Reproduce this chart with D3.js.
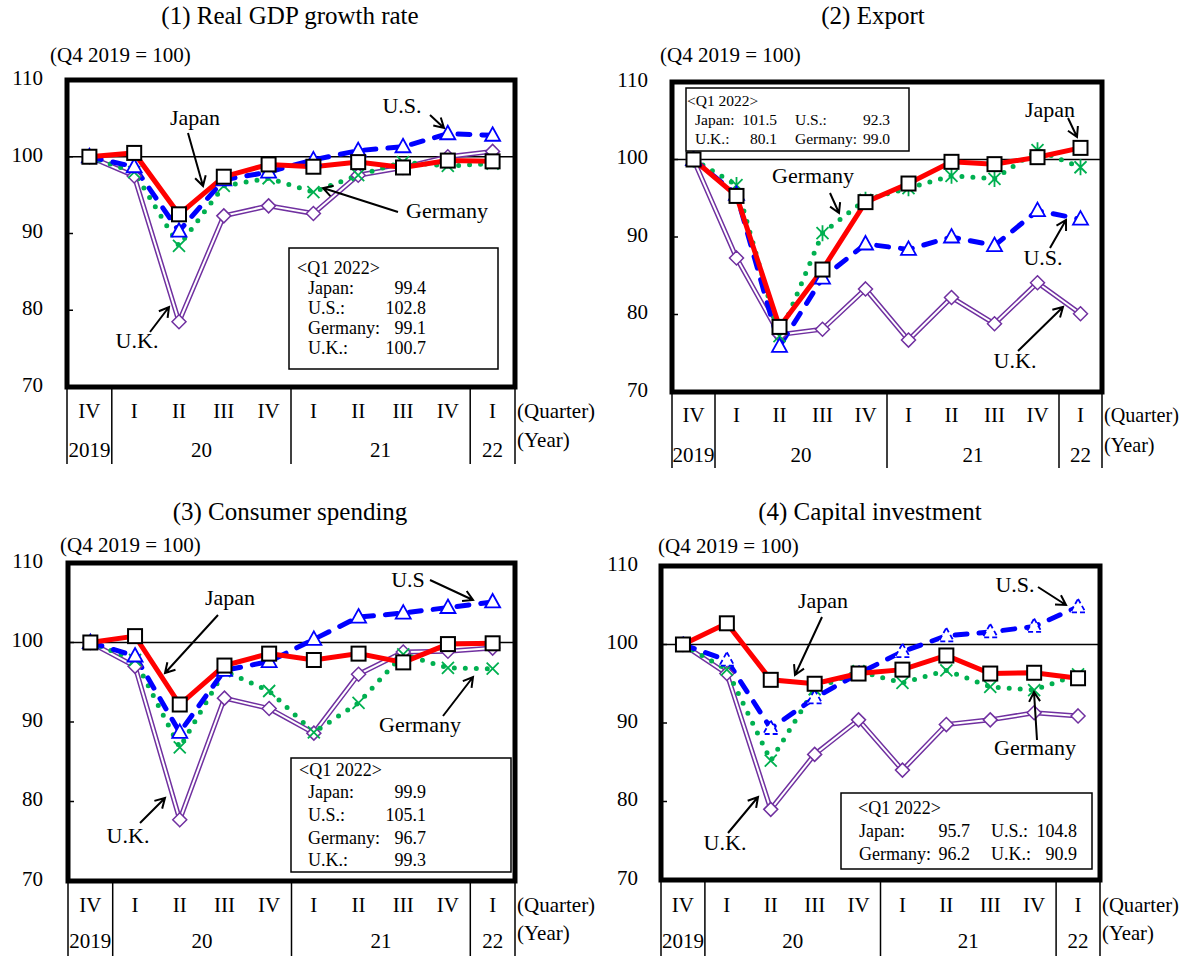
<!DOCTYPE html>
<html>
<head>
<meta charset="utf-8">
<script src="https://cdn.jsdelivr.net/npm/d3@7"></script>
<style>
  body { margin: 0; background: #fff; }
  svg text { font-family: "Liberation Serif", "Times New Roman", serif; fill: #000; }
</style>
</head>
<body>
<svg id="chart" width="1180" height="956"></svg>
<script>
(function() {
  'use strict';

  // Axis labels
  const quarters = ['IV', 'I', 'II', 'III', 'IV', 'I', 'II', 'III', 'IV', 'I'];
  const yearLabels = ['2019', '20', '21', '22'];
  const yearFirst = [0, 1, 5, 9];
  const yearLast = [0, 4, 8, 9];
  const yTicks = [70, 80, 90, 100, 110];
  const countryNames = ['Japan:', 'U.S.:', 'Germany:', 'U.K.:'];

  // (1) Real GDP
  const gdpJapan = [100, 100.5, 92.5, 97.4, 99.0, 98.7, 99.3, 98.6, 99.5, 99.4];
  const gdpUS = [100, 98.7, 90.3, 97.0, 98.0, 99.6, 100.8, 101.3, 103.0, 102.8];
  const gdpGermany = [100, 98.0, 88.4, 96.2, 97.2, 95.4, 97.6, 99.3, 98.8, 99.1];
  const gdpUK = [100, 97.5, 78.5, 92.3, 93.6, 92.6, 97.6, 98.6, 100.0, 100.7];

  // (2) Export
  const expJapan = [100, 95.3, 78.4, 85.8, 94.5, 96.9, 99.7, 99.4, 100.3, 101.5];
  const expUS = [100, 95.5, 75.9, 84.7, 89.1, 88.4, 90.0, 88.9, 93.4, 92.3];
  const expGermany = [100, 96.7, 77.2, 90.5, 94.8, 96.3, 97.9, 97.5, 101.2, 99.0];
  const expUK = [100, 87.3, 77.4, 78.1, 83.3, 76.7, 82.2, 78.8, 84.1, 80.1];

  // (3) Consumer spending
  const conJapan = [100, 100.8, 92.2, 97.1, 98.6, 97.8, 98.6, 97.5, 99.8, 99.9];
  const conUS = [100, 98.3, 88.7, 96.5, 97.6, 100.4, 103.2, 103.7, 104.4, 105.1];
  const conGermany = [100, 97.8, 86.8, 96.4, 93.9, 88.7, 92.4, 98.5, 96.8, 96.7];
  const conUK = [100, 97.0, 77.7, 93.0, 91.7, 88.6, 96.0, 98.8, 98.9, 99.3];

  // (4) Capital investment
  const capJapan = [100, 102.7, 95.5, 95.0, 96.3, 96.8, 98.6, 96.3, 96.4, 95.7];
  const capUS = [100, 98.0, 89.3, 93.2, 96.3, 99.1, 101.1, 101.6, 102.3, 104.8];
  const capGermany = [100, 96.8, 85.2, 94.3, 96.6, 95.1, 96.7, 94.6, 94.2, 96.2];
  const capUK = [100, 96.3, 79.0, 86.0, 90.4, 84.0, 89.8, 90.4, 91.3, 90.9];

  const panels = [
    {
      title: '(1) Real GDP growth rate', titleX: 290, titleY: 18,
      left: 67, right: 515, top: 80, bottom: 387,
      unitX: 50, unitY: 57, tickRight: 43,
      qY: 413, yrY: 452, yrNoteY: 442, divBottom: 464,
      series: [gdpJapan, gdpUS, gdpGermany, gdpUK],
      germanyMark: 'x', usDashedMark: false,
      legend: {
        box: [289, 248, 209, 121], font: 18, head: [297, 270],
        nameX: [308], valueX: [426], rows: [[0], [1], [2], [3]], rowY: [290, 310, 330, 350]
      },
      notes: [
        { text: 'Japan', x: 195, y: 120, a: [188, 133, 203, 186] },
        { text: 'U.S.', x: 402, y: 108, a: [430, 115, 444, 128] },
        { text: 'Germany', x: 447, y: 213, a: [398, 212, 323, 188] },
        { text: 'U.K.', x: 137, y: 343, a: [150, 332, 169, 307] }
      ]
    },
    {
      title: '(2) Export', titleX: 873, titleY: 18,
      left: 672, right: 1102, top: 82, bottom: 392,
      unitX: 660, unitY: 57, tickRight: 648,
      qY: 417, yrY: 457, yrNoteY: 447, divBottom: 468,
      series: [expJapan, expUS, expGermany, expUK],
      germanyMark: 'asterisk', usDashedMark: false,
      legend: {
        box: [686, 88, 223, 63], font: 15.5, head: [687, 102],
        nameX: [695, 795], valueX: [777, 890], rows: [[0, 1], [3, 2]], rowY: [121, 140]
      },
      notes: [
        { text: 'Germany', x: 813, y: 178, a: [830, 193, 839, 213] },
        { text: 'Japan', x: 1050, y: 112, a: [1068, 118, 1077, 137] },
        { text: 'U.S.', x: 1043, y: 260, a: [1050, 248, 1066, 220] },
        { text: 'U.K.', x: 1015, y: 363, a: [1018, 351, 1063, 307] }
      ]
    },
    {
      title: '(3) Consumer spending', titleX: 290, titleY: 514,
      left: 68, right: 515, top: 563, bottom: 881,
      unitX: 60, unitY: 547, tickRight: 43,
      qY: 907, yrY: 943, yrNoteY: 935, divBottom: 956,
      series: [conJapan, conUS, conGermany, conUK],
      germanyMark: 'x', usDashedMark: false,
      legend: {
        box: [291, 758, 220, 114], font: 18, head: [299, 772],
        nameX: [308], valueX: [426], rows: [[0], [1], [2], [3]], rowY: [794, 817, 840, 862]
      },
      notes: [
        { text: 'Japan', x: 230, y: 600, a: [218, 615, 165, 673] },
        { text: 'U.S', x: 408, y: 582, a: [430, 580, 473, 600] },
        { text: 'Germany', x: 420, y: 727, a: [443, 716, 473, 677] },
        { text: 'U.K.', x: 128, y: 838, a: [140, 823, 165, 798] }
      ]
    },
    {
      title: '(4) Capital investment', titleX: 870, titleY: 514,
      left: 661, right: 1100, top: 566, bottom: 880,
      unitX: 658, unitY: 548, tickRight: 638,
      qY: 907, yrY: 943, yrNoteY: 935, divBottom: 956,
      series: [capJapan, capUS, capGermany, capUK],
      germanyMark: 'x', usDashedMark: true,
      legend: {
        box: [841, 793, 251, 76], font: 18, head: [858, 810],
        nameX: [859, 991], valueX: [970, 1077], rows: [[0, 1], [2, 3]], rowY: [833, 856]
      },
      notes: [
        { text: 'Japan', x: 823, y: 603, a: [822, 617, 795, 675] },
        { text: 'U.S.', x: 1015, y: 587, a: [1038, 587, 1066, 605] },
        { text: 'Germany', x: 1035, y: 750, a: [1037, 740, 1034, 692] },
        { text: 'U.K.', x: 725, y: 845, a: [728, 833, 758, 797] }
      ]
    }
  ];

  const fmt = d3.format('.1f');
  const svg = d3.select('#chart');

  panels.forEach(drawPanel);

  function drawPanel(p) {
    let g = svg.append('g');

    let x = d3.scalePoint()
      .domain(d3.range(quarters.length))
      .range([p.left, p.right])
      .padding(0.5);
    let step = x.step();

    let y = d3.scaleLinear()
      .domain([70, 110])
      .range([p.bottom, p.top]);

    // Title and unit
    g.append('text')
      .attr('x', p.titleX).attr('y', p.titleY)
      .attr('text-anchor', 'middle').attr('dominant-baseline', 'middle')
      .style('font-size', '25px')
      .text(p.title);

    g.append('text')
      .attr('x', p.unitX).attr('y', p.unitY)
      .attr('dominant-baseline', 'middle')
      .style('font-size', '21px')
      .text('(Q4 2019 = 100)');

    // Y axis labels
    g.selectAll('.ylab')
      .data(yTicks)
      .enter()
      .append('text')
      .attr('x', p.tickRight)
      .attr('y', d => y(d))
      .attr('text-anchor', 'end')
      .attr('dominant-baseline', 'middle')
      .style('font-size', '21px')
      .text(d => d);

    g.selectAll('.ytick')
      .data(yTicks.slice(1, -1))
      .enter()
      .append('line')
      .attr('x1', p.left).attr('x2', p.left + 6)
      .attr('y1', d => y(d)).attr('y2', d => y(d))
      .attr('stroke', '#000').attr('stroke-width', 1.5);

    // 100 reference line
    g.append('line')
      .attr('x1', p.left).attr('x2', p.right)
      .attr('y1', y(100)).attr('y2', y(100))
      .attr('stroke', '#000').attr('stroke-width', 1.5);

    // Quarter / year labels under the frame
    g.selectAll('.qlab')
      .data(quarters)
      .enter()
      .append('text')
      .attr('x', (d, i) => x(i))
      .attr('y', p.qY)
      .attr('text-anchor', 'middle').attr('dominant-baseline', 'middle')
      .style('font-size', '21px')
      .text(d => d);

    g.selectAll('.yrlab')
      .data(yearLabels)
      .enter()
      .append('text')
      .attr('x', (d, i) => (x(yearFirst[i]) + x(yearLast[i])) / 2)
      .attr('y', p.yrY)
      .attr('text-anchor', 'middle').attr('dominant-baseline', 'middle')
      .style('font-size', '21px')
      .text(d => d);

    let edges = [0].concat(yearLast.map(d => d + 1));
    g.selectAll('.div')
      .data(edges)
      .enter()
      .append('line')
      .attr('x1', d => p.left + d * step).attr('x2', d => p.left + d * step)
      .attr('y1', p.bottom).attr('y2', p.divBottom)
      .attr('stroke', '#000').attr('stroke-width', 1.5);

    // the right column has little room: fit the note to the page
    let noteSize = Math.min(21, (1180 - p.right - 3) / 3.72);
    g.append('text')
      .attr('x', p.right + 2).attr('y', p.qY)
      .attr('dominant-baseline', 'middle')
      .style('font-size', noteSize + 'px')
      .text('(Quarter)');

    g.append('text')
      .attr('x', p.right + 2).attr('y', p.yrNoteY)
      .attr('dominant-baseline', 'middle')
      .style('font-size', noteSize + 'px')
      .text('(Year)');

    // Lines
    let line = d3.line().x((d, i) => x(i)).y(d => y(d));
    let [jp, us, de, uk] = p.series;

    g.append('path').datum(uk).attr('d', line)
      .attr('fill', 'none').attr('stroke', '#7030a0').attr('stroke-width', 5)
      .attr('stroke-linejoin', 'miter');
    g.append('path').datum(uk).attr('d', line)
      .attr('fill', 'none').attr('stroke', '#fff').attr('stroke-width', 2)
      .attr('stroke-linejoin', 'miter');

    g.append('path').datum(de).attr('d', line)
      .attr('fill', 'none').attr('stroke', '#00b050').attr('stroke-width', 5)
      .attr('stroke-linecap', 'round').attr('stroke-dasharray', '0 11');

    g.append('path').datum(us).attr('d', line)
      .attr('fill', 'none').attr('stroke', '#0000ff').attr('stroke-width', 5)
      .attr('stroke-linecap', 'round').attr('stroke-dasharray', '12 12');

    g.append('path').datum(jp).attr('d', line)
      .attr('fill', 'none').attr('stroke', '#ff0000').attr('stroke-width', 5)
      .attr('stroke-linejoin', 'miter');

    // Markers: U.K. diamonds
    g.selectAll('.ukm')
      .data(uk)
      .enter()
      .append('path')
      .attr('d', (d, i) => {
        let cx = x(i), cy = y(d), r = 7;
        return `M${cx},${cy - r}L${cx + r},${cy}L${cx},${cy + r}L${cx - r},${cy}Z`;
      })
      .attr('fill', '#fff').attr('stroke', '#7030a0').attr('stroke-width', 1.5);

    // Germany crosses / asterisks
    g.selectAll('.dem')
      .data(de)
      .enter()
      .append('path')
      .attr('d', (d, i) => {
        let cx = x(i), cy = y(d), r = 6;
        let s = `M${cx - r},${cy - r}L${cx + r},${cy + r}M${cx - r},${cy + r}L${cx + r},${cy - r}`;
        if (p.germanyMark === 'asterisk') s += `M${cx},${cy - r - 2}L${cx},${cy + r + 2}`;
        return s;
      })
      .attr('fill', 'none').attr('stroke', '#00b050').attr('stroke-width', 1.8);

    // U.S. triangles
    g.selectAll('.usm')
      .data(us)
      .enter()
      .append('path')
      .attr('d', (d, i) => {
        let cx = x(i), cy = y(d);
        return `M${cx},${cy - 8}L${cx + 7.5},${cy + 5.5}L${cx - 7.5},${cy + 5.5}Z`;
      })
      .attr('fill', '#fff').attr('stroke', '#0000ff').attr('stroke-width', 1.8)
      .attr('stroke-dasharray', p.usDashedMark ? '5 3' : null);

    // Japan squares
    g.selectAll('.jpm')
      .data(jp)
      .enter()
      .append('rect')
      .attr('x', (d, i) => x(i) - 7)
      .attr('y', d => y(d) - 7)
      .attr('width', 14).attr('height', 14)
      .attr('fill', '#fff').attr('stroke', '#000').attr('stroke-width', 2);

    // Legend box
    let lg = p.legend;
    g.append('rect')
      .attr('x', lg.box[0]).attr('y', lg.box[1])
      .attr('width', lg.box[2]).attr('height', lg.box[3])
      .attr('fill', '#fff').attr('stroke', '#000').attr('stroke-width', 1.5);

    g.append('text')
      .attr('x', lg.head[0]).attr('y', lg.head[1])
      .attr('dominant-baseline', 'middle')
      .style('font-size', lg.font + 'px')
      .text('<Q1 2022>');

    lg.rows.forEach((row, r) => {
      row.forEach((s, c) => {
        g.append('text')
          .attr('x', lg.nameX[c]).attr('y', lg.rowY[r])
          .attr('dominant-baseline', 'middle')
          .style('font-size', lg.font + 'px')
          .text(countryNames[s]);
        g.append('text')
          .attr('x', lg.valueX[c]).attr('y', lg.rowY[r])
          .attr('text-anchor', 'end')
          .attr('dominant-baseline', 'middle')
          .style('font-size', lg.font + 'px')
          .text(fmt(p.series[s][p.series[s].length - 1]));
      });
    });

    // Annotations
    p.notes.forEach(n => {
      g.append('text')
        .attr('x', n.x).attr('y', n.y)
        .attr('text-anchor', 'middle').attr('dominant-baseline', 'middle')
        .style('font-size', '22px')
        .text(n.text);
      arrow(g, n.a[0], n.a[1], n.a[2], n.a[3]);
    });

    // Frame
    g.append('rect')
      .attr('x', p.left).attr('y', p.top)
      .attr('width', p.right - p.left).attr('height', p.bottom - p.top)
      .attr('fill', 'none').attr('stroke', '#000').attr('stroke-width', 5);
  }

  function arrow(g, x1, y1, x2, y2) {
    let ang = Math.atan2(y2 - y1, x2 - x1);
    let len = 11;
    let a1 = ang + Math.PI * 5 / 6;
    let a2 = ang - Math.PI * 5 / 6;
    g.append('path')
      .attr('d', `M${x1},${y1}L${x2},${y2}` +
        `M${x2 + len * Math.cos(a1)},${y2 + len * Math.sin(a1)}L${x2},${y2}` +
        `L${x2 + len * Math.cos(a2)},${y2 + len * Math.sin(a2)}`)
      .attr('fill', 'none').attr('stroke', '#000').attr('stroke-width', 2);
  }
})();
</script>
</body>
</html>
